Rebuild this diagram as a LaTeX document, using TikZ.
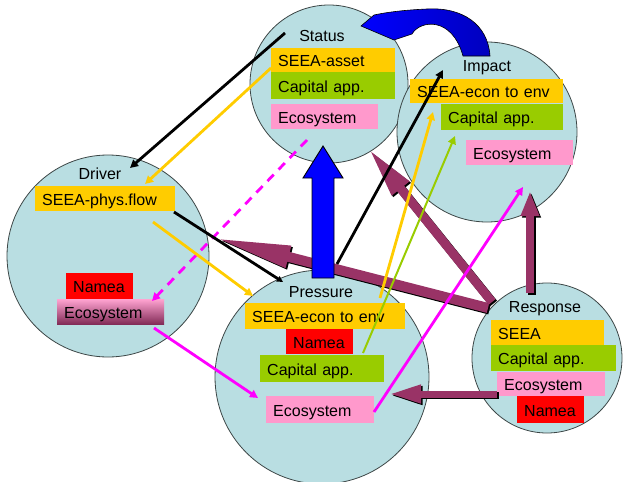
\documentclass[tikz,border=0pt]{standalone}
\usepackage{fontspec}
\setmainfont{Liberation Sans}
\usetikzlibrary{arrows.meta}
\definecolor{disc}{RGB}{185,222,226}
\definecolor{rim}{RGB}{60,70,70}
\definecolor{seeayel}{RGB}{255,204,0}
\definecolor{capgrn}{RGB}{153,204,0}
\definecolor{ecopink}{RGB}{255,153,204}
\definecolor{nameared}{RGB}{255,0,0}
\definecolor{linkmag}{RGB}{255,0,255}
\definecolor{plum}{RGB}{153,51,102}
\definecolor{flowblue}{RGB}{0,0,255}
\definecolor{deepblue}{RGB}{0,0,190}

\begin{document}
\begin{tikzpicture}[x=1pt,y=-1pt,
  font=\fontsize{16}{19}\selectfont,
  disk/.style={circle,draw=rim,line width=0.8pt,fill=disc,inner sep=0pt},
  title/.style={inner sep=0pt,text height=11.5pt,text depth=0pt},
  tag/.style n args={3}{anchor=north west,fill=#1,text width=#2,minimum height=#3,
    inner xsep=7pt,inner ysep=0pt,align=left,text height=13.5pt,text depth=0pt},
  link/.style={line width=2.8pt,-{Triangle[length=8pt,width=8pt]}},
  plumarrow/.style={plum,line cap=butt},
  plumshade/.style={black,line cap=butt,transform canvas={shift={(1.5pt,-1.5pt)}}},
]
\useasboundingbox (0,0) rectangle (624,482);

% discs
\node[disk,minimum size=158pt] (status)   at (329,84)  {};
\node[disk,minimum size=180pt] (impact)   at (487,132) {};
\node[disk,minimum size=202pt] (driver)   at (108,256) {};
\node[disk,minimum size=214pt] (pressure) at (322,377) {};
\node[disk,minimum size=150pt] (response) at (547,358) {};

% disc titles
\node[title] (statusT)   at (322,36)  {Status};
\node[title] (impactT)   at (487,66)  {Impact};
\node[title] (driverT)   at (100,174) {Driver};
\node[title] (pressureT) at (321,292) {Pressure};
\node[title] (responseT) at (545,307) {Response};

% Status boxes
\node[tag={seeayel}{110pt}{24pt}] (sA) at (271,48)  {SEEA-asset};
\node[tag={capgrn}{110pt}{27pt}]  (sC) at (271,72)  {Capital app.};
\node[tag={ecopink}{93pt}{25pt}]  (sE) at (271,104) {Ecosystem};
% Impact boxes
\node[tag={seeayel}{139pt}{24pt}] (iA) at (410,79)  {SEEA-econ to env};
\node[tag={capgrn}{108pt}{26pt}]  (iC) at (441,104) {Capital app.};
\node[tag={ecopink}{93pt}{25pt}]  (iE) at (466,140) {Ecosystem};
% Driver boxes
\node[tag={seeayel}{126pt}{25pt}] (dA) at (35,186)  {SEEA-phys.flow};
\node[tag={nameared}{53pt}{26pt}] (dN) at (66,273)  {Namea};
\node[tag={ecopink}{93pt}{25pt},top color=ecopink!90!white,bottom color=plum!85!black] (dE) at (57,299) {Ecosystem};
% Pressure boxes
\node[tag={seeayel}{146pt}{26pt}] (pA) at (245,303) {SEEA-econ to env};
\node[tag={nameared}{53pt}{25pt}] (pN) at (286,329) {Namea};
\node[tag={capgrn}{110pt}{27pt}]  (pC) at (260,355) {Capital app.};
\node[tag={ecopink}{94pt}{27pt}]  (pE) at (266,396) {Ecosystem};
% Response boxes
\node[tag={seeayel}{99pt}{25pt}]  (rA) at (491,320) {SEEA};
\node[tag={capgrn}{111pt}{26pt}]  (rC) at (491,345) {Capital app.};
\node[tag={ecopink}{94pt}{24pt}]  (rE) at (497,372) {Ecosystem};
\node[tag={nameared}{53pt}{27pt}] (rN) at (517,396) {Namea};

% connector end points
\coordinate (rsp1) at (488,308); \coordinate (drv1) at (211,237);
\coordinate (rsp2) at (492,302); \coordinate (imp1) at (368,148);
\coordinate (rsp3) at (530,293); \coordinate (imp2) at (530,191);
\coordinate (rsp4) at (497,394); \coordinate (prs1) at (389,394);

\coordinate (st1) at (285,33);  \coordinate (dr1) at (130,168);
\coordinate (st2) at (271,68);  \coordinate (dr2) at (145,184);
\coordinate (st3) at (307,140); \coordinate (dr3) at (152,301);
\coordinate (dr4) at (154,328); \coordinate (pr4) at (258,398);
\coordinate (dr5) at (174,212); \coordinate (pr5) at (283,282);
\coordinate (dr6) at (153,222); \coordinate (pr6) at (253,296);
\coordinate (pr7) at (337,264); \coordinate (im7) at (443,70);
\coordinate (pr8) at (380,298); \coordinate (im8) at (433,112);
\coordinate (pr9) at (363,353); \coordinate (im9) at (455,136);
\coordinate (pr10) at (374,412); \coordinate (im10) at (523,187);

% Response feedback arrows
\draw[plumshade,line width=10pt,-{Triangle[length=80pt,width=20pt]}] (rsp1) -- (drv1);
\draw[plumarrow,line width=10pt,-{Triangle[length=80pt,width=20pt]}] (rsp1) -- (drv1);
\draw[plumshade,line width=9pt,-{Triangle[length=52pt,width=20pt]}] (rsp2) -- (imp1);
\draw[plumarrow,line width=9pt,-{Triangle[length=52pt,width=20pt]}] (rsp2) -- (imp1);
\draw[plumshade,line width=8pt,-{Triangle[length=25pt,width=17pt]}] (rsp3) -- (imp2);
\draw[plumarrow,line width=8pt,-{Triangle[length=25pt,width=17pt]}] (rsp3) -- (imp2);
\draw[plumshade,line width=7pt,-{Triangle[length=32pt,width=17pt]}] (rsp4) -- (prs1);
\draw[plumarrow,line width=7pt,-{Triangle[length=32pt,width=17pt]}] (rsp4) -- (prs1);

% Pressure up to Status
\draw[fill=flowblue,line width=0.9pt,line join=miter]
  (312,278) -- (312,178) -- (303,178) -- (323,146) -- (343,178)
  -- (334,178) -- (334,278) -- cycle;

% Impact back to Status
\path[draw=black,line width=0.6pt,left color=flowblue,right color=deepblue]
  (490,56) .. controls (488,24) and (462,7) .. (427,9)
  .. controls (405,10) and (388,12) .. (374,15)
  -- (361,26) -- (394,40) -- (412,34)
  .. controls (420,20) and (452,16) .. (463,56) -- cycle;

% thin links
\draw[link,black] (st1) -- (dr1);
\draw[link,seeayel] (st2) -- (dr2);
\draw[link,linkmag,dash pattern=on 9pt off 7pt] (st3) -- (dr3);
\draw[link,linkmag] (dr4) -- (pr4);
\draw[line width=2.8pt,black,-{Triangle[length=6pt,width=6pt]}] (dr5) -- (pr5);
\draw[link,seeayel] (dr6) -- (pr6);
\draw[link,black] (pr7) -- (im7);
\draw[link,seeayel] (pr8) -- (im8);
\draw[link,capgrn,line width=2pt] (pr9) -- (im9);
\draw[link,linkmag] (pr10) -- (im10);
\end{tikzpicture}
\end{document}
